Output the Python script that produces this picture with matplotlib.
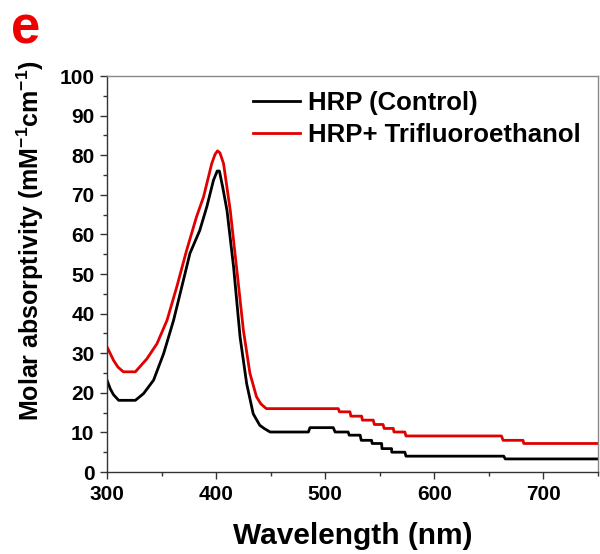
import matplotlib
matplotlib.use("Agg")
import matplotlib.pyplot as plt
from matplotlib.ticker import MultipleLocator

plt.rcParams['font.family'] = ['Liberation Sans', 'DejaVu Sans']
plt.rcParams['font.weight'] = 'bold'
plt.rcParams['mathtext.fontset'] = 'custom'
plt.rcParams['mathtext.rm'] = 'Liberation Sans'
plt.rcParams['mathtext.bf'] = 'Liberation Sans:bold'

# Data (wavelength nm, molar absorptivity mM^-1 cm^-1)
control_x = [300, 303, 306, 310.7, 326, 333.5, 342.7, 351.9, 361, 370, 376, 385, 391.5, 397.6,
             401, 403, 406, 410, 416, 422, 428, 434, 440, 444, 449.5,
             484.6, 486, 507.4, 509, 521, 522, 532, 533, 542.5, 543, 551.7, 552, 560.8, 561,
             573, 574, 663.6, 665, 750]
control_y = [23.2, 21.0, 19.5, 18.1, 18.1, 19.8, 23.2, 29.9, 38.3, 48.4, 55.2, 61, 67, 73.7,
             76, 76, 72, 66, 51.8, 34, 22.3, 14.7, 11.8, 11.0, 10.1,
             10.1, 11.2, 11.2, 10.1, 10.1, 9.3, 9.3, 8.0, 8.0, 7.2, 7.2, 5.9, 5.9, 5.0,
             5.0, 4.0, 4.0, 3.3, 3.3]

tfe_x = [300, 306, 310, 315, 326, 336.6, 345.8, 355, 364, 373, 382, 388.5, 396,
         399, 401.3, 403.5, 406.8, 413, 419, 425, 431, 437, 441, 446,
         512, 513, 522.7, 523.5, 533.4, 534, 544, 545, 553, 554, 562.4, 563, 573, 574,
         661.5, 663, 681.3, 682, 750]
tfe_y = [31.6, 28.2, 26.5, 25.3, 25.3, 28.6, 32.4, 38.3, 46.8, 56, 64.4, 69.5, 77.9,
         80.2, 81.1, 80.6, 77.9, 66, 51, 35.8, 24.9, 19, 17.2, 16.0,
         16.0, 15.2, 15.2, 14.1, 14.1, 13.1, 13.1, 12.0, 12.0, 11.0, 11.0, 10.1, 10.1, 9.1,
         9.1, 8.0, 8.0, 7.2, 7.2]

series_labels = ["HRP (Control)", "HRP+ Trifluoroethanol"]
x_ticks = [300, 400, 500, 600, 700]
y_ticks = [0, 10, 20, 30, 40, 50, 60, 70, 80, 90, 100]

W, H = 600, 554
fig = plt.figure(figsize=(W/100, H/100), dpi=100)
ax = fig.add_axes([107/W, 1 - 472/H, (598-107)/W, (472-76)/H])

ax.plot(control_x, control_y, color='black', lw=2.0, label=series_labels[0])
ax.plot(tfe_x, tfe_y, color='#e00000', lw=2.0, label=series_labels[1])

ax.set_xlim(300, 750)
ax.set_ylim(0, 100)
ax.set_xticks(x_ticks)
ax.set_yticks(y_ticks)
ax.xaxis.set_minor_locator(MultipleLocator(50))
ax.yaxis.set_minor_locator(MultipleLocator(5))
ax.tick_params(axis='both', which='major', direction='out', length=5, width=1,
               color='#333333', labelsize=15, pad=4)
ax.tick_params(axis='both', which='minor', direction='out', length=3, width=1, color='#333333')
for lab in ax.get_xticklabels() + ax.get_yticklabels():
    lab.set_fontweight('bold')

for side in ['left', 'bottom']:
    ax.spines[side].set_color('#333333')
    ax.spines[side].set_linewidth(1)
for side in ['top', 'right']:
    ax.spines[side].set_color('#888888')
    ax.spines[side].set_linewidth(1)

ax.set_xlabel("Wavelength (nm)", fontsize=21.5, fontweight='bold', labelpad=13)
ax.set_ylabel(r"Molar absorptivity $\mathrm{(}$mM$^{\mathbf{-1}}$cm$^{\mathbf{-1}}$$\mathrm{)}$",
              fontsize=18, fontweight='bold')
ax.yaxis.set_label_coords(-0.125, 0.585)

leg = ax.legend(loc='upper left', bbox_to_anchor=(253/W, 1 - 91/H),
                bbox_transform=fig.transFigure, frameon=False,
                prop={'size': 18.5, 'weight': 'bold'}, handlelength=1.83,
                handletextpad=0.31, labelspacing=0.32, borderaxespad=0.0, borderpad=0.0)

fig.text(11/W, 1 - 44/H, "e", color='#ee0000', fontsize=38, fontweight='bold',
         ha='left', va='baseline')

fig.savefig("out.png", dpi=100)
